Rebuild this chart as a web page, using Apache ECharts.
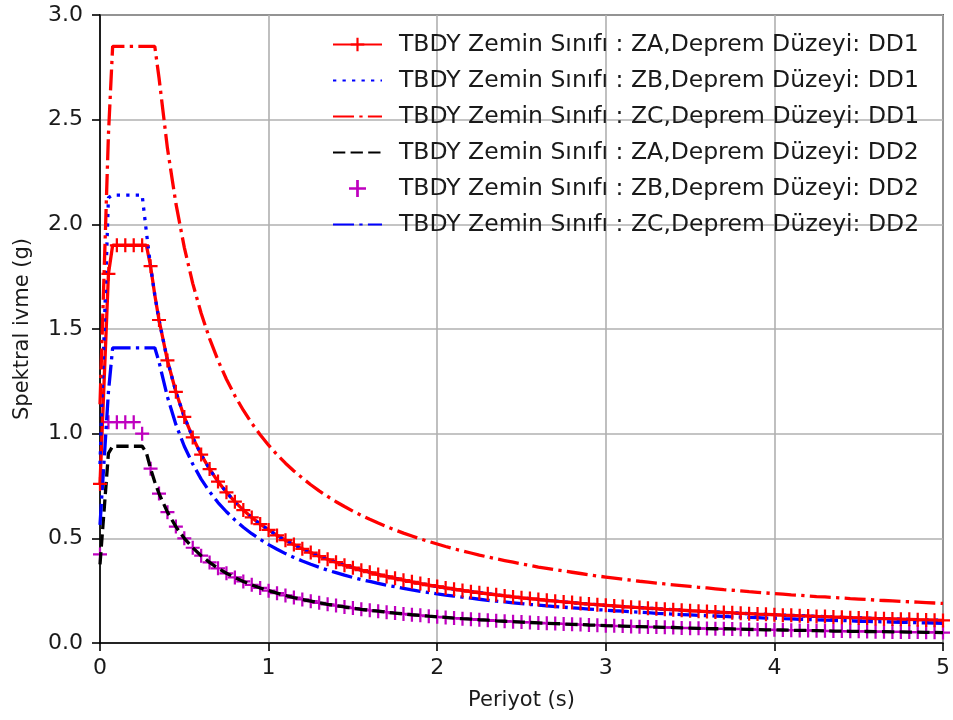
<!DOCTYPE html>
<html>
<head>
<meta charset="utf-8">
<script src="https://cdn.jsdelivr.net/npm/echarts@6/dist/echarts.min.js"></script>
<style>
html, body { margin: 0; padding: 0; background: #fff; }
#spektrum { width: 953px; height: 720px; }
</style>
</head>
<body>
<div id="spektrum"></div>
<script>
// periyotlar (s)
var periods = [
    0, 0.025, 0.05, 0.075, 0.1, 0.125, 0.15, 0.175, 0.2, 0.225, 0.25, 0.275, 0.3, 0.325, 0.35,
    0.4, 0.45, 0.5, 0.55, 0.6, 0.65, 0.7, 0.75, 0.8, 0.85, 0.9, 0.95,
    1.0, 1.05, 1.1, 1.15, 1.2, 1.25, 1.3, 1.35, 1.4, 1.45, 1.5, 1.55, 1.6, 1.65, 1.7, 1.75, 1.8, 1.85, 1.9, 1.95,
    2.0, 2.05, 2.1, 2.15, 2.2, 2.25, 2.3, 2.35, 2.4, 2.45, 2.5, 2.55, 2.6, 2.65, 2.7, 2.75, 2.8, 2.85, 2.9, 2.95,
    3.0, 3.05, 3.1, 3.15, 3.2, 3.25, 3.3, 3.35, 3.4, 3.45, 3.5, 3.55, 3.6, 3.65, 3.7, 3.75, 3.8, 3.85, 3.9, 3.95,
    4.0, 4.05, 4.1, 4.15, 4.2, 4.25, 4.3, 4.35, 4.4, 4.45, 4.5, 4.55, 4.6, 4.65, 4.7, 4.75, 4.8, 4.85, 4.9, 4.95,
    5.0
];

// spektral ivme (g)
var zaDD1 = [
    0.76, 1.262, 1.763, 1.9, 1.9, 1.9, 1.9, 1.9, 1.9, 1.9, 1.9, 1.9, 1.8, 1.662, 1.543,
    1.35, 1.2, 1.08, 0.982, 0.9, 0.831, 0.771, 0.72, 0.675, 0.635, 0.6, 0.568,
    0.54, 0.514, 0.491, 0.47, 0.45, 0.432, 0.415, 0.4, 0.386, 0.372, 0.36, 0.348, 0.338, 0.327, 0.318, 0.309, 0.3, 0.292, 0.284, 0.277,
    0.27, 0.263, 0.257, 0.251, 0.245, 0.24, 0.235, 0.23, 0.225, 0.22, 0.216, 0.212, 0.208, 0.204, 0.2, 0.196, 0.193, 0.189, 0.186, 0.183,
    0.18, 0.177, 0.174, 0.171, 0.169, 0.166, 0.164, 0.161, 0.159, 0.157, 0.154, 0.152, 0.15, 0.148, 0.146, 0.144, 0.142, 0.14, 0.138, 0.137,
    0.135, 0.133, 0.132, 0.13, 0.129, 0.127, 0.126, 0.124, 0.123, 0.121, 0.12, 0.119, 0.117, 0.116, 0.115, 0.114, 0.113, 0.111, 0.11, 0.109,
    0.108
];
var zbDD1 = [
    0.855, 1.491, 2.127, 2.14, 2.14, 2.14, 2.14, 2.14, 2.14, 2.14, 2.14, 1.964, 1.8, 1.662, 1.543,
    1.35, 1.2, 1.08, 0.982, 0.9, 0.831, 0.771, 0.72, 0.675, 0.635, 0.6, 0.568,
    0.54, 0.514, 0.491, 0.47, 0.45, 0.432, 0.415, 0.4, 0.386, 0.372, 0.36, 0.348, 0.338, 0.327, 0.318, 0.309, 0.3, 0.292, 0.284, 0.277,
    0.27, 0.263, 0.257, 0.251, 0.245, 0.24, 0.235, 0.23, 0.225, 0.22, 0.216, 0.212, 0.208, 0.204, 0.2, 0.196, 0.193, 0.189, 0.186, 0.183,
    0.18, 0.177, 0.174, 0.171, 0.169, 0.166, 0.164, 0.161, 0.159, 0.157, 0.154, 0.152, 0.15, 0.148, 0.146, 0.144, 0.142, 0.14, 0.138, 0.137,
    0.135, 0.133, 0.132, 0.13, 0.129, 0.127, 0.126, 0.124, 0.123, 0.121, 0.12, 0.119, 0.117, 0.116, 0.115, 0.114, 0.113, 0.111, 0.11, 0.109,
    0.108
];
var zcDD1 = [
    1.14, 1.785, 2.429, 2.85, 2.85, 2.85, 2.85, 2.85, 2.85, 2.85, 2.85, 2.85, 2.85, 2.85, 2.7,
    2.363, 2.1, 1.89, 1.718, 1.575, 1.454, 1.35, 1.26, 1.181, 1.112, 1.05, 0.995,
    0.945, 0.9, 0.859, 0.822, 0.788, 0.756, 0.727, 0.7, 0.675, 0.652, 0.63, 0.61, 0.591, 0.573, 0.556, 0.54, 0.525, 0.511, 0.497, 0.485,
    0.473, 0.461, 0.45, 0.44, 0.43, 0.42, 0.411, 0.402, 0.394, 0.386, 0.378, 0.371, 0.363, 0.357, 0.35, 0.344, 0.338, 0.332, 0.326, 0.32,
    0.315, 0.31, 0.305, 0.3, 0.295, 0.291, 0.286, 0.282, 0.278, 0.274, 0.27, 0.266, 0.263, 0.259, 0.255, 0.252, 0.249, 0.245, 0.242, 0.239,
    0.236, 0.233, 0.23, 0.228, 0.225, 0.222, 0.22, 0.217, 0.215, 0.212, 0.21, 0.208, 0.205, 0.203, 0.201, 0.199, 0.197, 0.195, 0.193, 0.191,
    0.189
];
var zaDD2 = [
    0.376, 0.641, 0.906, 0.94, 0.94, 0.94, 0.94, 0.94, 0.94, 0.94, 0.94, 0.909, 0.833, 0.769, 0.714,
    0.625, 0.556, 0.5, 0.455, 0.417, 0.385, 0.357, 0.333, 0.313, 0.294, 0.278, 0.263,
    0.25, 0.238, 0.227, 0.217, 0.208, 0.2, 0.192, 0.185, 0.179, 0.172, 0.167, 0.161, 0.156, 0.152, 0.147, 0.143, 0.139, 0.135, 0.132, 0.128,
    0.125, 0.122, 0.119, 0.116, 0.114, 0.111, 0.109, 0.106, 0.104, 0.102, 0.1, 0.098, 0.096, 0.094, 0.093, 0.091, 0.089, 0.088, 0.086, 0.085,
    0.083, 0.082, 0.081, 0.079, 0.078, 0.077, 0.076, 0.075, 0.074, 0.072, 0.071, 0.07, 0.069, 0.068, 0.068, 0.067, 0.066, 0.065, 0.064, 0.063,
    0.063, 0.062, 0.061, 0.06, 0.06, 0.059, 0.058, 0.057, 0.057, 0.056, 0.056, 0.055, 0.054, 0.054, 0.053, 0.053, 0.052, 0.052, 0.051, 0.051,
    0.05
];
var zbDD2 = [
    0.423, 0.758, 1.055, 1.055, 1.055, 1.055, 1.055, 1.055, 1.055, 1.055, 1.0, 0.909, 0.833, 0.769, 0.714,
    0.625, 0.556, 0.5, 0.455, 0.417, 0.385, 0.357, 0.333, 0.313, 0.294, 0.278, 0.263,
    0.25, 0.238, 0.227, 0.217, 0.208, 0.2, 0.192, 0.185, 0.179, 0.172, 0.167, 0.161, 0.156, 0.152, 0.147, 0.143, 0.139, 0.135, 0.132, 0.128,
    0.125, 0.122, 0.119, 0.116, 0.114, 0.111, 0.109, 0.106, 0.104, 0.102, 0.1, 0.098, 0.096, 0.094, 0.093, 0.091, 0.089, 0.088, 0.086, 0.085,
    0.083, 0.082, 0.081, 0.079, 0.078, 0.077, 0.076, 0.075, 0.074, 0.072, 0.071, 0.07, 0.069, 0.068, 0.068, 0.067, 0.066, 0.065, 0.064, 0.063,
    0.063, 0.062, 0.061, 0.06, 0.06, 0.059, 0.058, 0.057, 0.057, 0.056, 0.056, 0.055, 0.054, 0.054, 0.053, 0.053, 0.052, 0.052, 0.051, 0.051,
    0.05
];
var zcDD2 = [
    0.564, 0.881, 1.199, 1.41, 1.41, 1.41, 1.41, 1.41, 1.41, 1.41, 1.41, 1.41, 1.41, 1.41, 1.343,
    1.175, 1.044, 0.94, 0.855, 0.783, 0.723, 0.671, 0.627, 0.588, 0.553, 0.522, 0.495,
    0.47, 0.448, 0.427, 0.409, 0.392, 0.376, 0.362, 0.348, 0.336, 0.324, 0.313, 0.303, 0.294, 0.285, 0.276, 0.269, 0.261, 0.254, 0.247, 0.241,
    0.235, 0.229, 0.224, 0.219, 0.214, 0.209, 0.204, 0.2, 0.196, 0.192, 0.188, 0.184, 0.181, 0.177, 0.174, 0.171, 0.168, 0.165, 0.162, 0.159,
    0.157, 0.154, 0.152, 0.149, 0.147, 0.145, 0.142, 0.14, 0.138, 0.136, 0.134, 0.132, 0.131, 0.129, 0.127, 0.125, 0.124, 0.122, 0.121, 0.119,
    0.118, 0.116, 0.115, 0.113, 0.112, 0.111, 0.109, 0.108, 0.107, 0.106, 0.104, 0.103, 0.102, 0.101, 0.1, 0.099, 0.098, 0.097, 0.096, 0.095,
    0.094
];

var names = [
    'TBDY Zemin Sınıfı : ZA,Deprem Düzeyi: DD1',
    'TBDY Zemin Sınıfı : ZB,Deprem Düzeyi: DD1',
    'TBDY Zemin Sınıfı : ZC,Deprem Düzeyi: DD1',
    'TBDY Zemin Sınıfı : ZA,Deprem Düzeyi: DD2',
    'TBDY Zemin Sınıfı : ZB,Deprem Düzeyi: DD2',
    'TBDY Zemin Sınıfı : ZC,Deprem Düzeyi: DD2'
];

var font = 'DejaVu Sans';
var plus = 'path://M0,4.2H10V5.8H0Z M4.2,0H5.8V10H4.2Z';
var lw = 3.3;

function pairs(values) {
    var out = [];
    for (var i = 0; i < periods.length; i++) {
        out.push([periods[i], values[i]]);
    }
    return out;
}

// isaretler sadece 0.05 s adimlarinda
function plusSize(val) {
    var k = val[0] * 20;
    return Math.abs(k - Math.round(k)) < 1e-6 ? 14 : 0;
}

// cizgi serilerinde legend'de daire cikmasin
var legendData = [];
for (var i = 0; i < names.length; i++) {
    if (i === 0 || i === 4) {
        legendData.push({ name: names[i] });
    } else {
        legendData.push({ name: names[i], itemStyle: { opacity: 0 } });
    }
}

var chart = echarts.init(document.getElementById('spektrum'), null, { renderer: 'canvas' });
chart.setOption({
    animation: false,
    backgroundColor: '#fff',
    textStyle: { fontFamily: font },
    grid: {
        left: 100,
        right: 8,
        top: 15,
        bottom: 77,
        show: true,
        borderColor: '#000',
        borderWidth: 1.6
    },
    legend: {
        orient: 'vertical',
        left: 327,
        top: 26,
        itemWidth: 49,
        itemHeight: 17,
        itemGap: 9,
        data: legendData,
        textStyle: {
            fontFamily: font,
            fontSize: 23.5,
            color: '#1a1a1a',
            lineHeight: 27,
            padding: [0, 0, 0, 12]
        }
    },
    xAxis: {
        type: 'value',
        min: 0,
        max: 5,
        interval: 1,
        name: 'Periyot (s)',
        nameLocation: 'middle',
        nameGap: 47,
        nameTextStyle: { fontFamily: font, fontSize: 21, color: '#1a1a1a' },
        axisLine: { show: true, lineStyle: { color: '#000', width: 1.6 } },
        axisTick: { show: true, length: 8, lineStyle: { color: '#000', width: 1.6 } },
        axisLabel: { fontFamily: font, fontSize: 22, color: '#1a1a1a', margin: 14 },
        splitLine: { show: true, lineStyle: { color: '#b0b0b0', width: 1.6 } }
    },
    yAxis: {
        type: 'value',
        min: 0,
        max: 3,
        interval: 0.5,
        name: 'Spektral ivme (g)',
        nameLocation: 'middle',
        nameGap: 67,
        nameTextStyle: { fontFamily: font, fontSize: 21, color: '#1a1a1a' },
        axisLine: { show: true, lineStyle: { color: '#000', width: 1.6 } },
        axisTick: { show: true, length: 8, lineStyle: { color: '#000', width: 1.6 } },
        axisLabel: {
            fontFamily: font,
            fontSize: 22,
            color: '#1a1a1a',
            margin: 17,
            formatter: function (v) { return v.toFixed(1); }
        },
        splitLine: { show: true, lineStyle: { color: '#b0b0b0', width: 1.6 } }
    },
    series: [
        {
            name: names[0],
            type: 'line',
            data: pairs(zaDD1),
            symbol: plus,
            symbolSize: plusSize,
            showAllSymbol: true,
            itemStyle: { color: '#ff0000' },
            lineStyle: { color: '#ff0000', width: lw }
        },
        {
            name: names[1],
            type: 'line',
            data: pairs(zbDD1),
            symbol: 'none',
            itemStyle: { color: '#0000ff' },
            lineStyle: { color: '#0000ff', width: lw, type: [3.3, 6.2] }
        },
        {
            name: names[2],
            type: 'line',
            data: pairs(zcDD1),
            symbol: 'none',
            itemStyle: { color: '#ff0000' },
            lineStyle: { color: '#ff0000', width: lw, type: [21, 5.3, 3.3, 5.3] }
        },
        {
            name: names[3],
            type: 'line',
            data: pairs(zaDD2),
            symbol: 'none',
            itemStyle: { color: '#000000' },
            lineStyle: { color: '#000000', width: lw, type: [12.3, 5.3] }
        },
        {
            name: names[4],
            type: 'scatter',
            data: pairs(zbDD2),
            symbol: plus,
            symbolSize: plusSize,
            itemStyle: { color: '#bf00bf', opacity: 1 }
        },
        {
            name: names[5],
            type: 'line',
            data: pairs(zcDD2),
            symbol: 'none',
            itemStyle: { color: '#0000ff' },
            lineStyle: { color: '#0000ff', width: lw, type: [21, 5.3, 3.3, 5.3] }
        }
    ]
});
</script>
</body>
</html>
